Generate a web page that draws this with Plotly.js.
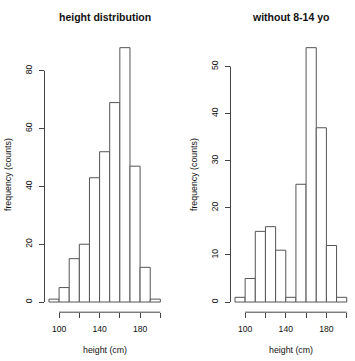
<!DOCTYPE html>
<html><head><meta charset="utf-8">
<script src="https://cdn.plot.ly/plotly-3.0.1.min.js"></script>
<style>html,body{margin:0;padding:0;background:#fff}#chart{width:355px;height:361px}</style>
</head><body><div id="chart"></div>
<script>
// ---- data ----
const binLow = [90,100,110,120,130,140,150,160,170,180,190];
const binWidth = 10;
const countsAll = [1,5,15,20,43,52,69,88,47,12,1];
const countsWithout = [1,5,15,16,11,1,25,54,37,12,1];
const xTickVals = [100,120,140,160,180,200];
const xTickText = ['100','','140','','180',''];
const yTickValsLeft = [0,20,40,60,80];
const yTickValsRight = [0,10,20,30,40,50];
const panelTitles = ['height distribution','without 8-14 yo'];
const xTitle = 'height (cm)';
const yTitle = 'frequency (counts)';

// ---- style ----
const W = 355, H = 361;
const FONT = 'Liberation Sans, Arial, Helvetica, sans-serif';
const INK = '#444';
const centers = binLow.map(v => v + binWidth/2);
const xlo = Math.min(...binLow), xhi = Math.max(...binLow) + binWidth;
const xpad = 0.04*(xhi-xlo);
const xRange = [xlo - xpad, xhi + xpad];
function yRange(c){ const m = Math.max(...c); return [-0.04*m, 1.04*m]; }

const px = v => v / W;
const py = v => 1 - v / H;
const yDom = [py(312.2), py(37.5)];

function barTrace(counts, xa, ya){
  return {type:'bar', x:centers, y:counts, width:binWidth, xaxis:xa, yaxis:ya,
    marker:{color:'#ffffff', line:{color:'#555', width:1}}, hoverinfo:'skip', showlegend:false};
}
function xAxis(dom, anchor){
  return {domain:dom, range:xRange, anchor:anchor, showgrid:false, zeroline:false, showline:false,
    tickmode:'array', tickvals:xTickVals, ticktext:xTickText, ticks:'outside', ticklen:4.5, tickwidth:1,
    tickcolor:INK, tickfont:{family:FONT, size:8.6, color:'#111'}, ticklabelstandoff:4, fixedrange:true};
}
function yAxis(range, vals, anchor){
  return {domain:yDom, range:range, anchor:anchor, showgrid:false, zeroline:false, showline:false,
    tickmode:'array', tickvals:vals, ticktext:vals.map(String), ticks:'outside', ticklen:5, tickwidth:1,
    tickcolor:INK, tickangle:-90, tickfont:{family:FONT, size:8.6, color:'#111'}, ticklabelstandoff:3, fixedrange:true};
}
function axisLines(xa, ya, yvals){
  return [
    {type:'line', xref:xa+' domain', yref:ya, x0:0, x1:0, y0:Math.min(...yvals), y1:Math.max(...yvals), line:{color:INK, width:1}},
    {type:'line', xref:xa, yref:ya+' domain', x0:Math.min(...xTickVals), x1:Math.max(...xTickVals), y0:0, y1:0, line:{color:INK, width:1}}
  ];
}
function ann(text, x, y, size, bold, angle){
  return {text: bold ? '<b>'+text+'</b>' : text, xref:'paper', yref:'paper', x:x, y:y, xanchor:'center', yanchor:'middle',
    showarrow:false, textangle:angle||0, font:{family:FONT, size:size, color:'#111'}};
}

const data = [barTrace(countsAll,'x','y'), barTrace(countsWithout,'x2','y2')];
const layout = {
  width:W, height:H, margin:{l:0,r:0,t:0,b:0}, paper_bgcolor:'#fff', plot_bgcolor:'#fff',
  bargap:0, showlegend:false,
  xaxis: xAxis([px(44.5), px(164.8)], 'y'),
  yaxis: yAxis(yRange(countsAll), yTickValsLeft, 'x'),
  xaxis2: xAxis([px(230.5), px(351.2)], 'y2'),
  yaxis2: yAxis(yRange(countsWithout), yTickValsRight, 'x2'),
  shapes: axisLines('x','y',yTickValsLeft).concat(axisLines('x2','y2',yTickValsRight)),
  annotations: [
    ann(panelTitles[0], px(104.7), py(16.5), 10.5, true),
    ann(panelTitles[1], px(290.8), py(16.5), 10.5, true),
    ann(xTitle, px(105), py(350), 8.8, false),
    ann(xTitle, px(291), py(350), 8.8, false),
    ann(yTitle, px(8), py(175), 8.8, false, -90),
    ann(yTitle, px(194), py(175), 8.8, false, -90)
  ]
};
Plotly.newPlot('chart', data, layout, {displayModeBar:false, staticPlot:true});
</script>
</body></html>
